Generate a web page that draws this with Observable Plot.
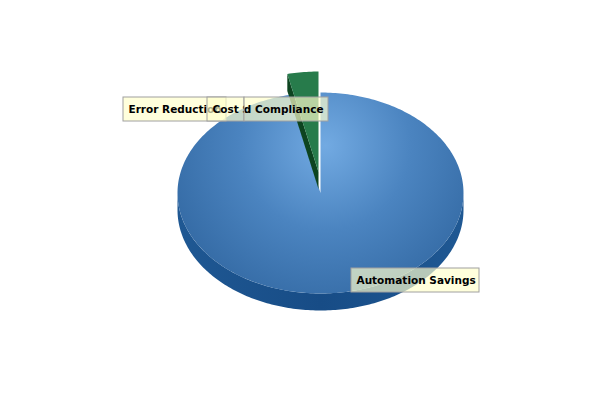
<!DOCTYPE html>
<html>
<head>
<meta charset="utf-8">
<script src="https://cdn.jsdelivr.net/npm/d3@7"></script>
<script src="https://cdn.jsdelivr.net/npm/@observablehq/plot@0.6"></script>
<style>
  html, body { margin: 0; padding: 0; background: #fff; }
  #chart { width: 600px; height: 400px; }
</style>
</head>
<body>
<div id="chart"></div>
<script>
// ---- data ----
const categories = ["Automation Savings", "Error Reduction", "Cost Savings", "Improved Compliance"];
const values = [96.5, 0, 0, 3.5];
const exploded = [false, false, false, true];

// ---- styles ----
const topFill = ["url(#blueTop)", "#c0504d", "#e8b730", "#277b4b"];
const sideFill = ["url(#blueSide)", "#7a2f2d", "#9a7a20", "#0d4420"];

// ---- geometry (pixel space through identity scales) ----
const W = 600, H = 400;
const cx = 320, cy = 192.5, rx = 143, ry = 100.5, depth = 17, explodeFrac = 0.21;
const rad = d => d * Math.PI / 180;
const pt = (a, dx = 0, dy = 0) => [cx + dx + rx * Math.sin(rad(a)), cy + dy - ry * Math.cos(rad(a))];

const total = d3.sum(values);
let acc = 0;
const slices = categories.map((c, i) => {
  const a0 = acc / total * 360;
  acc += values[i];
  const a1 = acc / total * 360;
  const mid = (a0 + a1) / 2;
  const dx = exploded[i] ? explodeFrac * rx * Math.sin(rad(mid)) * 0.6 : 0;
  const dy = exploded[i] ? -explodeFrac * ry * Math.cos(rad(mid)) : 0;
  return {c, i, v: values[i], a0, a1, mid, dx, dy};
}).filter(s => s.v > 0);

function arc(a0, a1, dx, dy, extra = 0) {
  const n = Math.max(2, Math.ceil(Math.abs(a1 - a0)));
  return d3.range(n + 1).map(k => {
    const a = a0 + (a1 - a0) * k / n;
    const [x, y] = pt(a, dx, dy + extra);
    return {x, y};
  });
}

const sidePolys = [], facePolys = [], topPolys = [];
for (const s of slices) {
  const lo = Math.max(s.a0, 90), hi = Math.min(s.a1, 270);
  if (hi > lo) {
    const p = [...arc(lo, hi, s.dx, s.dy), ...arc(hi, lo, s.dx, s.dy, depth)];
    p.forEach(d => { d.id = "side" + s.i; d.fill = sideFill[s.i]; });
    sidePolys.push(...p);
  }
  if (s.dx !== 0 || s.dy !== 0) {
    const c = {x: cx + s.dx, y: cy + s.dy};
    const [rx0, ry0] = pt(s.a0, s.dx, s.dy);
    const p = [
      {x: c.x, y: c.y}, {x: rx0, y: ry0},
      {x: rx0, y: ry0 + depth}, {x: c.x, y: c.y + depth}
    ];
    p.forEach(d => { d.id = "face" + s.i; d.fill = sideFill[s.i]; });
    facePolys.push(...p);
  }
  const p = [{x: cx + s.dx, y: cy + s.dy}, ...arc(s.a0, s.a1, s.dx, s.dy)];
  p.forEach(d => { d.id = "top" + s.i; d.fill = topFill[s.i]; d.order = s.dx !== 0 ? 1 : 0; });
  topPolys.push(...p);
}
const topBase = topPolys.filter(d => d.order === 0);
const topExpl = topPolys.filter(d => d.order === 1);

// ---- labels layout ----
const labelLayout = {
  "Automation Savings": {x1: 351, x2: 479, y1: 268, y2: 292, anchor: "start"},
  "Error Reduction":    {x1: 123, x2: 226, y1: 97, y2: 121, anchor: "start"},
  "Cost Savings":       {x1: 207, x2: 244, y1: 97, y2: 121, anchor: "start"},
  "Improved Compliance":{x1: 244, x2: 328, y1: 97, y2: 121, anchor: "end"}
};
const labels = categories.map(c => {
  const L = labelLayout[c];
  return {c, ...L, tx: L.anchor === "start" ? L.x1 + 5 : L.x2 - 5, ty: (L.y1 + L.y2) / 2};
});

const polyMark = (data) => Plot.line(data, {
  x: "x", y: "y", z: "id", fill: d => d.fill, stroke: "none", curve: "linear"
});

const labelMarks = labels.flatMap(l => [
  Plot.rect([l], {x1: "x1", x2: "x2", y1: "y1", y2: "y2", fill: "#ffffcc", fillOpacity: 0.68, stroke: "#a0a0a0", strokeWidth: 1}),
  Plot.text([l], {x: "tx", y: "ty", text: "c", textAnchor: l.anchor, lineAnchor: "middle",
    fontFamily: "DejaVu Sans", fontWeight: "bold", fontSize: 10.5, fill: "#000"})
]);

const chart = Plot.plot({
  width: W, height: H,
  marginTop: 0, marginRight: 0, marginBottom: 0, marginLeft: 0,
  x: {type: "linear", domain: [0, W], range: [0, W], axis: null},
  y: {type: "linear", domain: [0, H], range: [0, H], axis: null},
  color: {type: "identity"},
  style: {background: "#fff", overflow: "visible"},
  marks: [
    polyMark(sidePolys),
    polyMark(topBase),
    polyMark(facePolys),
    polyMark(topExpl),
    ...labelMarks
  ]
});

const svg = d3.select(chart);
const defs = svg.insert("defs", ":first-child");
const rg = defs.append("radialGradient").attr("id", "blueTop")
  .attr("gradientUnits", "userSpaceOnUse").attr("cx", 325).attr("cy", 145).attr("r", 170);
rg.append("stop").attr("offset", 0).attr("stop-color", "#72aae2");
rg.append("stop").attr("offset", 0.5).attr("stop-color", "#4b84c0");
rg.append("stop").attr("offset", 1).attr("stop-color", "#346aa4");
const sg = defs.append("linearGradient").attr("id", "blueSide")
  .attr("gradientUnits", "userSpaceOnUse").attr("x1", 177).attr("x2", 463).attr("y1", 0).attr("y2", 0);
sg.append("stop").attr("offset", 0).attr("stop-color", "#1f5893");
sg.append("stop").attr("offset", 0.5).attr("stop-color", "#174c86");
sg.append("stop").attr("offset", 1).attr("stop-color", "#1f5893");

const textGroups = svg.selectAll("g[aria-label='text']").nodes();
labels.forEach((l, k) => {
  const id = "clip" + k;
  defs.append("clipPath").attr("id", id).append("rect")
    .attr("x", l.x1).attr("y", l.y1).attr("width", l.x2 - l.x1).attr("height", l.y2 - l.y1);
  if (textGroups[k]) d3.select(textGroups[k]).attr("clip-path", `url(#${id})`);
});

document.getElementById("chart").appendChild(chart);
</script>
</body>
</html>
